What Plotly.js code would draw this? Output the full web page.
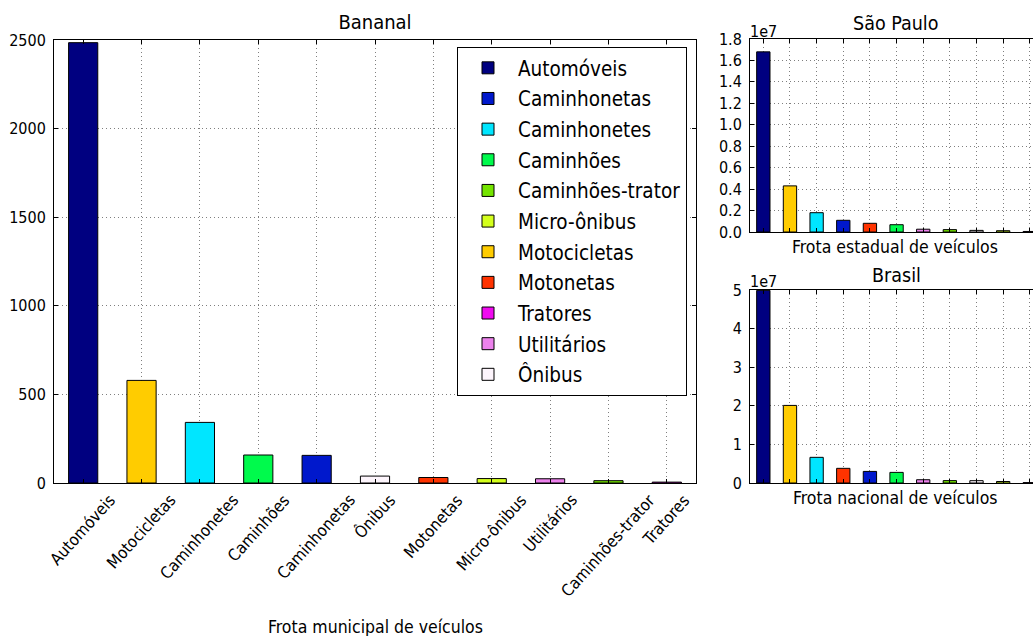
<!DOCTYPE html>
<html>
<head>
<meta charset="utf-8">
<script src="https://cdn.plot.ly/plotly-3.0.1.min.js"></script>
<style>html,body{margin:0;padding:0;background:#fff;}</style>
</head>
<body>
<div id="chart" style="width:1033px;height:636px;"></div>
<script>
// ---- data ----
const categories = ["Automóveis","Caminhonetas","Caminhonetes","Caminhões","Caminhões-trator","Micro-ônibus","Motocicletas","Motonetas","Tratores","Utilitários","Ônibus"];
const colors = ["#000080","#0018cc","#00e6ff","#00fa4c","#74e400","#d4ff1c","#ffcc00","#ff3300","#f00af0","#ec82ec","#fdf5fc"];
const bananal  = [2485, 156, 342, 158, 13, 25, 579, 31, 5, 24, 39];
const saoPaulo = [16.8e6, 1.09e6, 1.80e6, 0.68e6, 0.22e6, 0.12e6, 4.30e6, 0.81e6, 0.05e6, 0.26e6, 0.15e6];
const brasil   = [49.9e6, 3.00e6, 6.65e6, 2.75e6, 0.62e6, 0.39e6, 20.1e6, 3.80e6, 0.10e6, 0.85e6, 0.60e6];
const bananalTicks = [0, 500, 1000, 1500, 2000, 2500];
const spTickLabels = ["0.0","0.2","0.4","0.6","0.8","1.0","1.2","1.4","1.6","1.8"];
const brTickLabels = ["0","1","2","3","4","5"];

// ---- helpers ----
const W = 1033, H = 636;
const px = x => x / W;
const py = y => 1 - y / H;
const sortedIdx = vals => vals.map((v, i) => i).sort((a, b) => vals[b] - vals[a]);
const FONT = "DejaVu Sans Condensed, DejaVu Sans, sans-serif";

const grid = {showgrid: true, gridcolor: "rgba(0,0,0,0.5)", gridwidth: 1, griddash: "1px,3px"};
const axisBase = Object.assign({
  showline: true, linecolor: "#000", linewidth: 1,
  ticks: "inside", ticklen: 4, tickwidth: 1, tickcolor: "#000",
  zeroline: false, fixedrange: true, ticklabelstandoff: 4,
  tickfont: {size: 16}
}, grid);

const bOrder = sortedIdx(bananal);
const spOrder = sortedIdx(saoPaulo);
const brOrder = sortedIdx(brasil);

const traces = [];
categories.forEach((c, i) => {
  traces.push({
    type: "bar", x: [c], y: [bananal[i]], name: c, legendgroup: "g" + i,
    width: 0.5, xaxis: "x", yaxis: "y",
    marker: {color: colors[i], line: {color: "#000", width: 1}}
  });
});
traces.push({
  type: "bar", x: spOrder.map(i => categories[i]), y: spOrder.map(i => saoPaulo[i]),
  width: 0.5, xaxis: "x2", yaxis: "y2", showlegend: false,
  marker: {color: spOrder.map(i => colors[i]), line: {color: "#000", width: 1}}
});
traces.push({
  type: "bar", x: brOrder.map(i => categories[i]), y: brOrder.map(i => brasil[i]),
  width: 0.5, xaxis: "x3", yaxis: "y3", showlegend: false,
  marker: {color: brOrder.map(i => colors[i]), line: {color: "#000", width: 1}}
});

const annotations = [];
bOrder.forEach(i => {
  annotations.push({
    xref: "x", yref: "y", x: categories[i], y: 0, yshift: -5,
    text: categories[i], textangle: -48, xanchor: "center", yanchor: "top",
    showarrow: false, font: {size: 16.5}
  });
});
const txt = (t, x, y, size, xa) => ({
  xref: "paper", yref: "paper", x: px(x), y: py(y), text: t, showarrow: false,
  xanchor: xa || "center", yanchor: "middle", font: {size: size}
});
annotations.push(txt("Frota municipal de veículos", 375, 627, 17.5));
annotations.push(txt("São Paulo", 895, 24, 19.5));
annotations.push(txt("Frota estadual de veículos", 895, 247, 17.5));
annotations.push(txt("Brasil", 896, 275, 19.5));
annotations.push(txt("Frota nacional de veículos", 895, 498, 17.5));
annotations.push(txt("1e7", 748, 31, 16, "left"));
annotations.push(txt("1e7", 748, 281, 16, "left"));

const layout = {
  width: W, height: H,
  margin: {l: 0, r: 0, t: 0, b: 0},
  paper_bgcolor: "#fff", plot_bgcolor: "#fff",
  font: {family: FONT, size: 16, color: "#000"},
  barmode: "overlay", bargap: 0,
  title: {text: "Bananal", font: {size: 20}, xref: "paper", x: px(375), xanchor: "center",
          yref: "paper", y: py(22), yanchor: "middle"},
  showlegend: true,
  legend: {
    x: px(687), xanchor: "right", y: py(47), yanchor: "top",
    bgcolor: "#fff", bordercolor: "#000", borderwidth: 1,
    font: {size: 20.5}, tracegroupgap: 1, itemwidth: 50
  },
  xaxis: Object.assign({}, axisBase, {
    domain: [px(54), px(696)], anchor: "y", type: "category",
    categoryorder: "array", categoryarray: bOrder.map(i => categories[i]),
    range: [-0.5, 10.5], showticklabels: false, mirror: "ticks"
  }),
  yaxis: Object.assign({}, axisBase, {
    domain: [py(483), py(40)], anchor: "x", range: [0, 2500],
    tickvals: bananalTicks, ticktext: bananalTicks.map(String), mirror: "ticks"
  }),
  xaxis2: Object.assign({}, axisBase, {
    domain: [px(750), 1], anchor: "y2", type: "category",
    range: [-0.5, 10.12], showticklabels: false, mirror: "ticks"
  }),
  yaxis2: Object.assign({}, axisBase, {
    domain: [py(232), py(39)], anchor: "x2", range: [0, 1.8e7],
    tickvals: spTickLabels.map(t => parseFloat(t) * 1e7), ticktext: spTickLabels
  }),
  xaxis3: Object.assign({}, axisBase, {
    domain: [px(750), 1], anchor: "y3", type: "category",
    range: [-0.5, 10.12], showticklabels: false, mirror: "ticks"
  }),
  yaxis3: Object.assign({}, axisBase, {
    domain: [py(483), py(290)], anchor: "x3", range: [0, 5e7],
    tickvals: brTickLabels.map(t => parseFloat(t) * 1e7), ticktext: brTickLabels
  }),
  annotations: annotations
};

Plotly.newPlot("chart", traces, layout, {displayModeBar: false, staticPlot: true});
</script>
</body>
</html>
